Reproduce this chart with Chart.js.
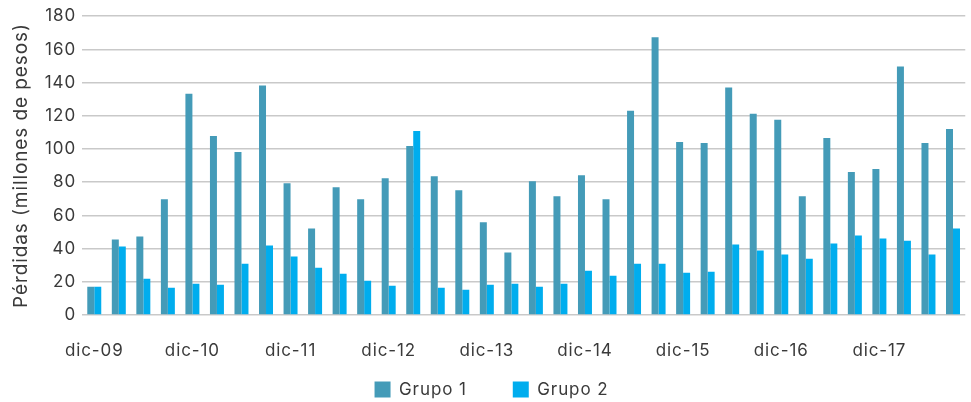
<!DOCTYPE html>
<html>
<head>
<meta charset="utf-8">
<script src="https://cdn.jsdelivr.net/npm/chart.js@4/dist/chart.umd.min.js"></script>
<style>
  html, body { margin: 0; padding: 0; background: #ffffff; }
  #wrap { width: 971px; height: 402px; position: relative; }
</style>
</head>
<body>
<div id="wrap"><canvas id="c" width="971" height="402"></canvas></div>
<script>
// Quarterly periods, dic-09 through sep-18
const categories = [
  'dic-09','mar-10','jun-10','sep-10',
  'dic-10','mar-11','jun-11','sep-11',
  'dic-11','mar-12','jun-12','sep-12',
  'dic-12','mar-13','jun-13','sep-13',
  'dic-13','mar-14','jun-14','sep-14',
  'dic-14','mar-15','jun-15','sep-15',
  'dic-15','mar-16','jun-16','sep-16',
  'dic-16','mar-17','jun-17','sep-17',
  'dic-17','mar-18','jun-18','sep-18'
];

// Losses, millions of pesos
const grupo1 = [
  17, 45.5, 47.3, 69.7,
  133.3, 107.9, 98.2, 138.2,
  79.4, 52.1, 77.0, 69.7,
  82.4, 101.8, 83.6, 75.2,
  55.8, 37.6, 80.6, 71.5,
  84.2, 69.7, 123.0, 167.3,
  104.2, 103.6, 137.0, 121.2,
  117.6, 71.5, 106.7, 86.1,
  87.9, 149.7, 103.6, 112.1
];
const grupo2 = [
  17, 41.2, 21.8, 16.4,
  18.8, 18.2, 30.9, 41.8,
  35.2, 28.5, 24.8, 20.6,
  17.6, 110.9, 16.4, 15.2,
  18.2, 18.8, 17.0, 18.8,
  26.7, 23.6, 30.9, 30.9,
  25.5, 26.1, 42.4, 38.8,
  36.4, 33.9, 43.0, 47.9,
  46.1, 44.8, 36.4, 52.1
];

const yTicks = { min: 0, max: 180, step: 20 };
const axisTitle = 'Pérdidas (millones de pesos)';
const seriesNames = ['Grupo 1', 'Grupo 2'];

const FONT = 'Inter, "Open Sans", sans-serif';
const TEXT = '#3a3a3a';
const LEGEND_GAP = 46;

// Wider tracking for all canvas text, and a compact legend band whose
// items sit near the bottom edge while keeping a wide gap between entries.
const layoutTweaks = {
  id: 'layoutTweaks',
  beforeLayout(chart) {
    chart.ctx.letterSpacing = '0.9px';
    const lg = chart.legend;
    if (lg && !lg._compact) {
      const fit = lg.fit;
      lg.fit = function () { fit.call(this); this.height = 34; };
      lg._compact = true;
    }
  },
  afterLayout(chart) {
    const lg = chart.legend;
    if (lg) {
      lg.top = 381 - LEGEND_GAP;
      lg.bottom = chart.height;
      lg.left = 6;
      lg.right = chart.width + 6;
    }
  },
  beforeDraw(chart) {
    chart.ctx.letterSpacing = '0.9px';
  }
};

new Chart(document.getElementById('c'), {
  type: 'bar',
  data: {
    labels: categories,
    datasets: [
      { label: seriesNames[0], data: grupo1, backgroundColor: '#449bb8', borderWidth: 0 },
      { label: seriesNames[1], data: grupo2, backgroundColor: '#00adee', borderWidth: 0 }
    ]
  },
  plugins: [layoutTweaks],
  options: {
    responsive: false,
    animation: false,
    devicePixelRatio: 1,
    layout: { padding: { top: 11, right: 0, bottom: 2, left: 0 } },
    datasets: { bar: { categoryPercentage: 0.57, barPercentage: 1.0 } },
    plugins: {
      tooltip: { enabled: false },
      legend: {
        position: 'bottom',
        labels: {
          font: { family: FONT, size: 17 },
          color: TEXT,
          boxWidth: 16,
          boxHeight: 16,
          padding: LEGEND_GAP
        }
      }
    },
    scales: {
      x: {
        grid: { display: false },
        border: { display: false },
        afterFit: function (scale) { scale.height = 51; },
        ticks: {
          autoSkip: false,
          maxRotation: 0,
          minRotation: 0,
          padding: 18,
          color: TEXT,
          font: { family: FONT, size: 17 },
          callback: function (value, index) {
            return index % 4 === 0 ? categories[index] : '';
          }
        }
      },
      y: {
        min: yTicks.min,
        max: yTicks.max,
        afterFit: function (scale) { scale.width = 82; },
        ticks: {
          stepSize: yTicks.step,
          color: TEXT,
          padding: 6,
          font: { family: FONT, size: 17 }
        },
        grid: { color: '#c9c9c9', lineWidth: 1.5, drawTicks: false },
        border: { display: false },
        title: {
          display: true,
          text: axisTitle,
          color: TEXT,
          font: { family: FONT, size: 19 },
          padding: { top: 10, bottom: 2 }
        }
      }
    }
  }
});
</script>
</body>
</html>
